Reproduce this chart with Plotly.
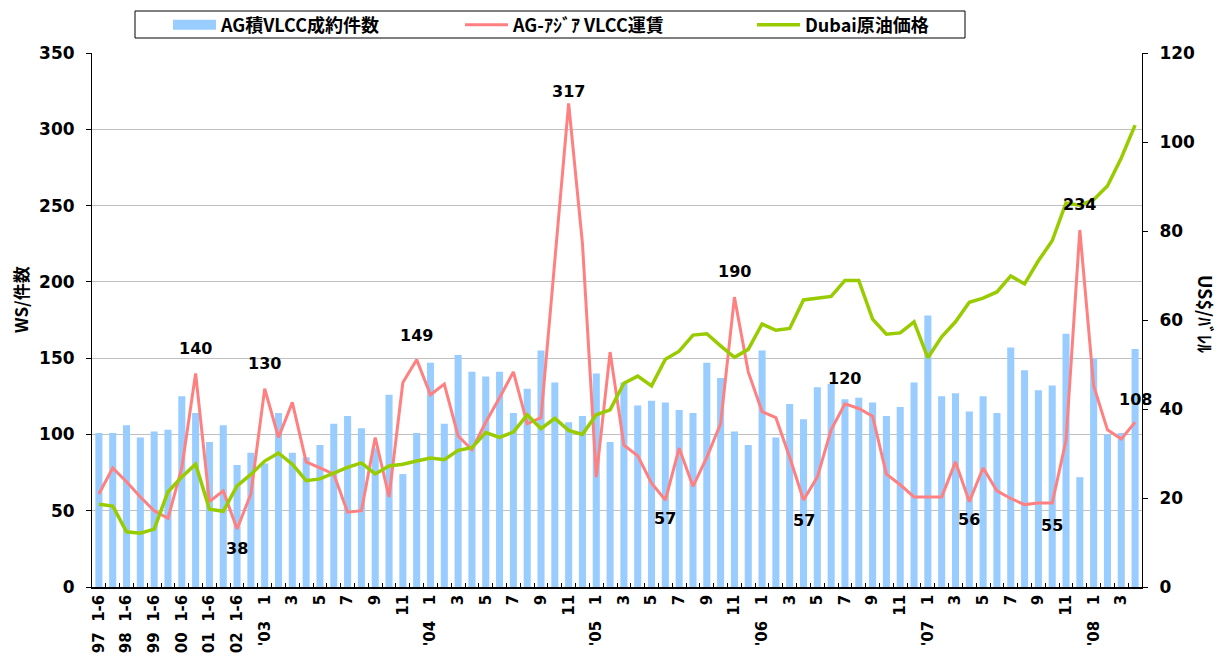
import plotly.graph_objects as go

# ---- data -------------------------------------------------------------
half_year_years = ["97", "98", "99", "00", "01", "02"]
month_years = ["03", "04", "05", "06", "07", "08"]
last_month_2008 = 4

# AG loaded VLCC fixtures (count)
fixtures = [101, 101, 106, 98, 102, 103, 125, 114, 95, 106, 80, 88,
            81, 114, 88, 85, 93, 107, 112, 104, 91, 126, 74, 101,
            147, 107, 152, 141, 138, 141, 114, 130, 155, 134, 108, 112,
            140, 95, 134, 119, 122, 121, 116, 114, 147, 137, 102, 93,
            155, 98, 120, 110, 131, 133, 123, 124, 121, 112, 118, 134,
            178, 125, 127, 115, 125, 114, 157, 142, 129, 132, 166, 72,
            150, 100, 101, 156]

# AG - Asia VLCC freight (WS)
ws_rate = [61, 78, 69, 59, 50, 45, 78, 140, 56, 63, 38, 61,
           130, 98, 121, 82, 78, 74, 49, 50, 98, 59, 134, 149,
           126, 133, 99, 90, 108, 124, 141, 107, 111, 215, 317, 225,
           72, 154, 93, 86, 68, 57, 91, 66, 85, 107, 190, 141,
           115, 111, 85, 57, 72, 103, 120, 117, 112, 74, 67, 59,
           59, 59, 82, 56, 78, 63, 58, 54, 55, 55, 96, 234,
           132, 103, 97, 108]

# Dubai crude price (US$/bbl)
dubai = [18.6, 18.2, 12.4, 12.1, 13.0, 21.4, 24.7, 27.6, 17.5, 17.0, 22.7, 25.3,
         28.3, 30.1, 27.6, 23.9, 24.3, 25.7, 26.9, 27.9, 25.4, 27.2, 27.6, 28.3,
         29.0, 28.6, 30.7, 31.3, 34.7, 33.6, 34.8, 38.7, 35.6, 37.9, 35.2, 34.3,
         38.7, 39.8, 45.8, 47.4, 45.2, 51.2, 53.0, 56.6, 56.9, 54.2, 51.6, 53.4,
         59.1, 57.7, 58.1, 64.5, 64.9, 65.3, 68.9, 68.9, 60.2, 56.8, 57.1, 59.6,
         51.5, 56.2, 59.6, 64.0, 64.9, 66.3, 69.9, 68.1, 73.3, 77.8, 86.3, 85.8,
         87.0, 90.1, 96.4, 103.8]

# freight points carrying a value label: index -> vertical shift in px
label_points = {7: 25, 10: -19, 12: 25, 23: 24, 34: 12, 41: -18,
                46: 26, 51: -20, 54: 25, 63: -18, 69: -22, 71: 25, 75: 23}

# ---- categories and tick labels ---------------------------------------
NB = "\u00a0"
periods, tick_labels = [], []
for y in half_year_years:
    periods += [f"{y} 1-6", f"{y} 7-12"]
    tick_labels += [f"{y}{NB}{NB}1-6", ""]
for y in month_years:
    n = last_month_2008 if y == "08" else 12
    for m in range(1, n + 1):
        periods.append(f"{y}/{m:02d}")
        if m == 1:
            tick_labels.append(f"'{y}{NB}{NB}{NB}1")
        elif m % 2 == 1:
            tick_labels.append(str(m))
        else:
            tick_labels.append("")

NUM_FONT = "DejaVu Sans"
JP_FONT = "Noto Sans CJK JP"

BLUE = "#99CCFF"
PINK = "#FF8080"
GREEN = "#99CC00"

PLOT_L, PLOT_R, PLOT_T, PLOT_B = 92, 1142, 53, 587
PW, PH = PLOT_R - PLOT_L, PLOT_B - PLOT_T


def px_x(px):
    return (px - PLOT_L) / PW


def px_y(py):
    return (PLOT_B - py) / PH


fig = go.Figure()

fig.add_trace(go.Bar(
    x=periods, y=fixtures, name="AG積VLCC成約件数",
    marker=dict(color=BLUE, line=dict(width=0)),
    showlegend=False, yaxis="y",
))
# legend key for the bars (wide swatch)
fig.add_trace(go.Scatter(
    x=[None], y=[None], mode="lines", name="AG積VLCC成約件数",
    line=dict(color=BLUE, width=14), yaxis="y",
))
fig.add_trace(go.Scatter(
    x=periods, y=ws_rate, mode="lines", name="AG-ｱｼﾞｱ VLCC運賃",
    line=dict(color=PINK, width=3), yaxis="y",
))
fig.add_trace(go.Scatter(
    x=periods, y=dubai, mode="lines", name="Dubai原油価格",
    line=dict(color=GREEN, width=3.5), yaxis="y2",
))

annotations = []
for i, shift in label_points.items():
    annotations.append(dict(
        x=periods[i], y=ws_rate[i], xref="x", yref="y",
        text=str(ws_rate[i]), showarrow=False, yshift=shift,
        font=dict(family=NUM_FONT, size=16, color="black", weight="bold"),
    ))

# right axis title, reading top to bottom
annotations.append(dict(
    x=px_x(1206), y=px_y(314), xref="paper", yref="paper",
    xanchor="center", yanchor="middle", text="US$/ﾊﾞﾚﾙ",
    showarrow=False, textangle=90,
    font=dict(family=JP_FONT, size=18, color="black", weight="bold"),
))
# left axis title, reading bottom to top
annotations.append(dict(
    x=px_x(20), y=px_y(300), xref="paper", yref="paper",
    xanchor="center", yanchor="middle", text="WS/件数",
    showarrow=False, textangle=-90,
    font=dict(family=JP_FONT, size=17, color="black", weight="bold"),
))

TICK_FONT = dict(family=NUM_FONT, size=17, color="black", weight="bold")

fig.update_layout(
    width=1218, height=663,
    margin=dict(l=PLOT_L, r=1218 - PLOT_R, t=PLOT_T, b=663 - PLOT_B,
                autoexpand=False),
    paper_bgcolor="white", plot_bgcolor="white",
    bargap=0.49,
    font=dict(family=NUM_FONT, color="black"),
    xaxis=dict(
        type="category", categoryorder="array", categoryarray=periods,
        tickmode="array", tickvals=periods, ticktext=tick_labels,
        tickangle=-90, tickson="boundaries", ticks="inside", ticklen=4,
        tickcolor="black", showline=True, linecolor="black", linewidth=1.5,
        showgrid=False, automargin=False,
        tickfont=dict(family=NUM_FONT, size=15, color="black", weight="bold"),
        range=[-0.5, len(periods) - 0.5],
    ),
    yaxis=dict(
        range=[0, 350], dtick=50, tick0=0,
        showgrid=True, gridcolor="#C0C0C0", gridwidth=1,
        ticks="outside", ticklen=5, tickcolor="black", ticklabelstandoff=8,
        showline=True, linecolor="black", linewidth=1, zeroline=False,
        tickfont=TICK_FONT, automargin=False,
    ),
    yaxis2=dict(
        overlaying="y", side="right", range=[0, 120], dtick=20, tick0=0,
        showgrid=False, ticks="outside", ticklen=5, tickcolor="black",
        ticklabelstandoff=8,
        showline=True, linecolor="black", linewidth=1, zeroline=False,
        tickfont=TICK_FONT, automargin=False,
    ),
    legend=dict(
        orientation="h", x=px_x(168), y=px_y(25), xanchor="left", yanchor="middle",
        itemwidth=43, entrywidth=234, entrywidthmode="pixels",
        bgcolor="rgba(0,0,0,0)", borderwidth=0,
        font=dict(family=JP_FONT, size=18, color="black", weight="bold"),
        traceorder="normal",
    ),
    shapes=[dict(
        type="rect", xref="paper", yref="paper",
        x0=px_x(135), x1=px_x(965), y0=px_y(38), y1=px_y(11),
        line=dict(color="black", width=1), fillcolor="rgba(0,0,0,0)",
    )],
    annotations=annotations,
    showlegend=True,
)

fig.write_html("out.html")
